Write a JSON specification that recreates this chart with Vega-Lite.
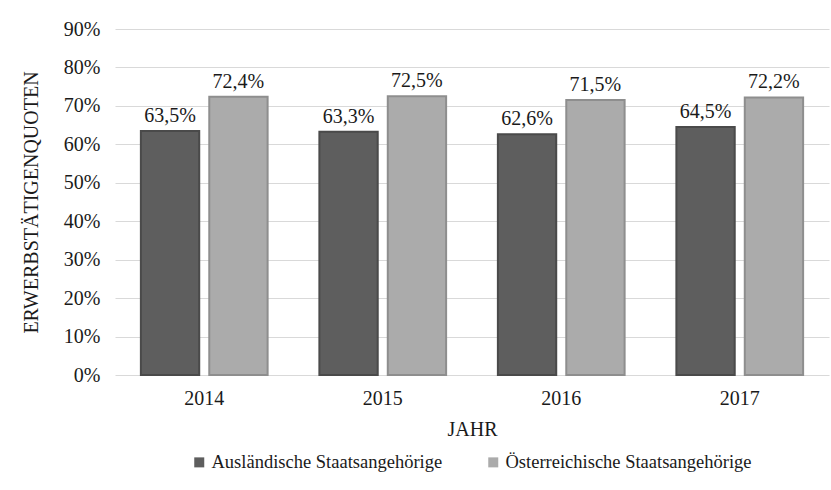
{
  "$schema": "https://vega.github.io/schema/vega-lite/v6.json",
  "width": 714,
  "height": 346,
  "autosize": {"type": "none"},
  "padding": {"left": 115, "top": 29, "right": 2, "bottom": 115},
  "background": "#ffffff",
  "config": {
    "locale": {"number": {"decimal": ",", "thousands": ".", "grouping": [3], "currency": ["", " €"]}},
    "font": "Liberation Serif",
    "view": {"stroke": null},
    "axis": {"labelFont": "Liberation Serif", "titleFont": "Liberation Serif", "labelColor": "#1a1a1a", "titleColor": "#1a1a1a", "titleFontWeight": "normal"},
    "legend": {"labelFont": "Liberation Serif"},
    "text": {"font": "Liberation Serif"}
  },
  "data": {
    "values": [
      {"jahr": "2014", "gruppe": "Ausländische Staatsangehörige", "quote": 0.635},
      {"jahr": "2014", "gruppe": "Österreichische Staatsangehörige", "quote": 0.724},
      {"jahr": "2015", "gruppe": "Ausländische Staatsangehörige", "quote": 0.633},
      {"jahr": "2015", "gruppe": "Österreichische Staatsangehörige", "quote": 0.725},
      {"jahr": "2016", "gruppe": "Ausländische Staatsangehörige", "quote": 0.626},
      {"jahr": "2016", "gruppe": "Österreichische Staatsangehörige", "quote": 0.715},
      {"jahr": "2017", "gruppe": "Ausländische Staatsangehörige", "quote": 0.645},
      {"jahr": "2017", "gruppe": "Österreichische Staatsangehörige", "quote": 0.722}
    ]
  },
  "encoding": {
    "x": {
      "field": "jahr", "type": "nominal", "title": "JAHR",
      "scale": {"paddingInner": 0.29, "paddingOuter": 0.145},
      "axis": {"labelAngle": 0, "ticks": false, "domain": false, "labelFontSize": 20, "labelBaseline": "alphabetic", "labelPadding": 29, "titleFontSize": 20, "titleY": 60, "titleBaseline": "alphabetic"}
    },
    "xOffset": {"field": "gruppe", "type": "nominal", "scale": {"paddingInner": 0.147, "paddingOuter": 0}},
    "y": {
      "field": "quote", "type": "quantitative", "title": "ERWERBSTÄTIGENQUOTEN",
      "scale": {"domain": [0, 0.9]},
      "axis": {"format": ".0%", "values": [0, 0.1, 0.2, 0.3, 0.4, 0.5, 0.6, 0.7, 0.8, 0.9], "ticks": false, "domain": false, "gridColor": "#d9d9d9", "gridWidth": 1, "labelFontSize": 20, "labelPadding": 15, "titleFontSize": 20, "titleX": -84, "titleY": 173, "titleAngle": -90, "titleBaseline": "middle", "titleAlign": "center"}
    }
  },
  "layer": [
    {
      "mark": {"type": "bar", "strokeWidth": 2},
      "encoding": {
        "color": {
          "field": "gruppe", "type": "nominal",
          "scale": {"range": ["#5e5e5e", "#ababab"]},
          "legend": {"orient": "none", "direction": "horizontal", "legendX": 75, "legendY": 424, "title": null, "labelFont": "Liberation Serif", "labelFontSize": 18.5, "labelColor": "#1a1a1a", "labelLimit": 400, "symbolType": "square", "symbolSize": 100, "labelOffset": 3, "columnPadding": 41, "symbolStrokeWidth": 0}
        },
        "stroke": {
          "field": "gruppe", "type": "nominal",
          "scale": {"range": ["#4a4a4a", "#8e8e8e"]},
          "legend": null
        }
      }
    },
    {
      "mark": {"type": "text", "baseline": "alphabetic", "dy": -9, "fontSize": 20, "color": "#1a1a1a", "font": "Liberation Serif"},
      "encoding": {
        "text": {"field": "quote", "type": "quantitative", "format": ".1%"}
      }
    }
  ]
}
